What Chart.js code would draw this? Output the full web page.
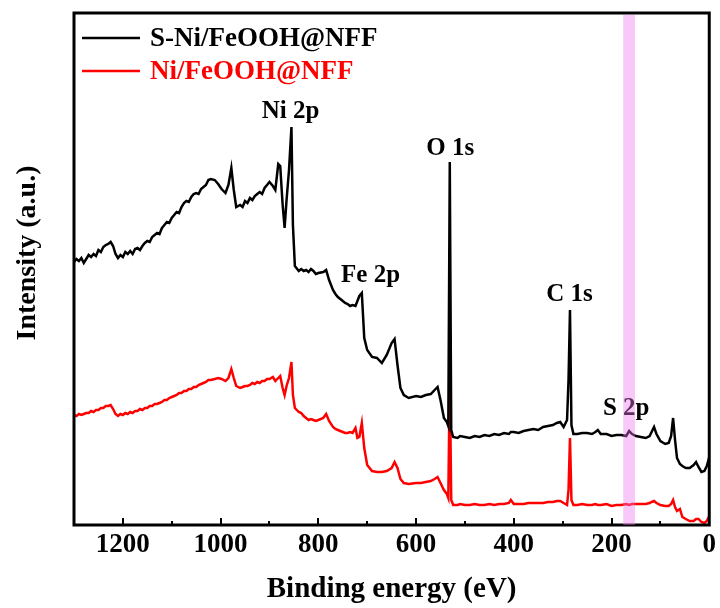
<!DOCTYPE html>
<html>
<head>
    <title>XPS survey spectra</title>
    <style>
        body { margin: 0; background: #fff; }
        #xps { display: block; }
    </style>
    <script src="https://cdn.jsdelivr.net/npm/chart.js"></script>
</head>
<body>
    <canvas id="xps" width="720" height="608"></canvas>

    <script>
        // binding energy (eV), shared by both spectra
        const energy = [
            1300, 1295, 1290, 1285, 1280, 1275, 1270, 1265, 1260, 1255, 1250, 1245, 1240, 1235, 1230, 1225, 1220, 1215, 1210, 1205,
            1200, 1195, 1190, 1185, 1180, 1175, 1170, 1165, 1160, 1155, 1150, 1145, 1140, 1135, 1130, 1125, 1120, 1115, 1110, 1105,
            1100, 1095, 1090, 1085, 1080, 1075, 1070, 1065, 1060, 1055, 1050, 1045, 1040, 1035, 1030, 1025, 1020,
            1012, 1005, 998, 990, 984, 978, 973, 968,
            960, 955, 950, 945, 940, 935, 930, 925, 920, 915, 910, 905, 900,
            893, 888, 882, 878, 873, 869, 865, 860, 855, 852, 848,
            840, 835, 830, 825, 820, 815, 810, 805, 800,
            790, 784, 778,
            770, 765, 760, 755, 750, 745, 740, 735, 730,
            724, 720, 716, 711, 706, 700, 690, 680, 670, 660, 650, 644, 638, 632, 625, 615, 600, 590, 580, 570,
            562, 556, 550, 543, 537, 534, 531, 528,
            524, 515, 510, 500, 490, 480, 470, 460, 450, 440, 430, 420, 410, 406, 400, 390, 380, 370, 360, 350,
            340, 330, 320, 312, 305, 298,
            291, 288, 285, 282, 278, 270, 260, 250, 240, 233, 228, 222, 210, 200, 190, 180, 170, 164, 158, 150,
            140, 130, 122, 118, 113, 108, 100, 90, 83, 78, 74, 70, 66, 60, 55, 48, 40, 32, 27, 22,
            16, 10, 5, 0];

        // intensity (a.u.), S-Ni/FeOOH@NFF
        const sNiFeOOH = [
            263, 266, 264, 267, 262, 266, 270, 268, 271, 269, 275, 273, 278, 280, 281, 283, 279, 271, 267, 270,
            268, 273, 271, 274, 271, 276, 277, 275, 279, 282, 284, 283, 288, 290, 292, 291, 297, 300, 303, 302,
            307, 310, 313, 312, 318, 322, 324, 323, 328, 331, 332, 331, 336, 338, 340, 345, 346,
            345, 341, 336, 332, 340, 357, 335, 318,
            320, 318, 324, 322, 327, 325, 329, 331, 333, 331, 337, 340, 343,
            339, 335, 361, 359, 320, 297, 325, 355, 398, 300, 259,
            254, 256, 254, 255, 253, 256, 254, 251, 252,
            253, 255, 245,
            235, 231, 228, 226, 224, 222, 221, 219, 220,
            219, 224, 229, 232, 187, 175, 168, 167, 162, 170, 182, 186, 160, 137, 130, 127, 129, 128, 130, 131,
            135, 138, 125, 107, 103, 99, 363, 95,
            88, 87, 89, 88, 87, 89, 88, 90, 89, 91, 90, 92, 91, 93, 93, 92, 94, 95, 96, 95,
            98, 99, 100, 102, 103, 98,
            105, 145, 215, 100, 91, 91, 92, 92, 91, 93, 95, 91, 91, 89, 90, 90, 89, 94, 91, 89,
            88, 87, 89, 93, 98, 91, 84, 81, 82, 89, 107, 85, 67, 61, 59, 57, 57, 60, 63, 58,
            53, 54, 59, 68];

        // intensity (a.u.), Ni/FeOOH@NFF
        const niFeOOH = [
            110, 109, 111, 110, 111, 112, 112, 114, 113, 115, 115, 117, 117, 119, 119, 120, 116, 111, 109, 111,
            110, 112, 111, 113, 112, 114, 114, 116, 115, 117, 117, 119, 119, 121, 121, 122, 123, 125, 125, 127,
            128, 129, 130, 132, 132, 134, 134, 136, 136, 138, 138, 140, 141, 142, 143, 145, 145,
            146, 147, 146, 144, 147, 156, 147, 139,
            137, 138, 139, 139, 140, 142, 141, 143, 142, 144, 144, 146, 146,
            148, 144, 147, 149, 137, 130, 139, 147, 163, 130, 117,
            113, 112, 109, 107, 105, 106, 105, 104, 105,
            107, 111, 104,
            98, 96, 95, 94, 93, 92, 92, 93, 92,
            97, 87, 88, 102, 77, 60, 54, 53, 53, 54, 57, 63, 57, 46, 42, 41, 42, 42, 43, 44,
            46, 48, 42, 35, 31, 27, 151, 25,
            20, 20, 21, 20, 20, 21, 20, 20, 21, 20, 21, 21, 22, 25, 21, 21, 21, 22, 22, 22,
            22, 23, 23, 24, 24, 22,
            20, 35, 87, 25, 20, 20, 21, 20, 20, 21, 20, 20, 21, 19, 20, 20, 21, 20, 21, 21,
            21, 21, 22, 23, 24, 22, 20, 19, 19, 21, 25, 18, 14, 16, 8, 6, 4, 4, 6, 6,
            3, 2, 4, 9];

        const xTickLabels = [1200, 1000, 800, 600, 400, 200, 0];

        // peak assignments: name, energy of the label centre, height of its baseline
        const peakNames = ['Ni 2p', 'Fe 2p', 'O 1s', 'C 1s', 'S 2p'];
        const peakEnergy = [857, 693, 530, 286, 170];
        const peakHeight = [407, 243, 370, 224, 110];

        // highlighted S 2p window (eV)
        const sBand = [152, 176];

        const SERIF = '"Liberation Serif", "Times New Roman", serif';

        const xpsDecor = {
            id: 'xpsDecor',
            afterDatasetsDraw(chart) {
                const ctx = chart.ctx;
                const area = chart.chartArea;
                const x = chart.scales.x;
                const y = chart.scales.y;

                // frame
                ctx.save();
                ctx.strokeStyle = '#000';
                ctx.lineWidth = 3;
                ctx.strokeRect(area.left, area.top, area.right - area.left, area.bottom - area.top);

                // inward ticks on the energy axis
                ctx.lineWidth = 2;
                for (let e = 100; e < 1300; e += 100) {
                    const px = Math.round(x.getPixelForValue(e));
                    const len = e % 200 === 0 ? 7 : 4;
                    ctx.beginPath();
                    ctx.moveTo(px, area.bottom);
                    ctx.lineTo(px, area.bottom - len);
                    ctx.stroke();
                }

                // peak labels
                ctx.fillStyle = '#000';
                ctx.font = 'bold 25px ' + SERIF;
                ctx.textAlign = 'center';
                ctx.textBaseline = 'alphabetic';
                peakNames.forEach((name, i) => {
                    ctx.fillText(name, x.getPixelForValue(peakEnergy[i]), y.getPixelForValue(peakHeight[i]));
                });

                // legend
                ctx.font = 'bold 27px ' + SERIF;
                ctx.textAlign = 'left';
                ctx.textBaseline = 'middle';
                chart.data.datasets.forEach((ds, i) => {
                    const ly = 38 + i * 33;
                    ctx.strokeStyle = ds.borderColor;
                    ctx.lineWidth = 2.5;
                    ctx.beginPath();
                    ctx.moveTo(82, ly);
                    ctx.lineTo(140, ly);
                    ctx.stroke();
                    ctx.fillStyle = ds.borderColor;
                    ctx.fillText(ds.label, 150, ly + 1);
                });

                // y axis title
                ctx.fillStyle = '#000';
                ctx.font = 'bold 28px ' + SERIF;
                ctx.translate(28, 253);
                ctx.rotate(-Math.PI / 2);
                ctx.textAlign = 'center';
                ctx.fillText('Intensity (a.u.)', 0, 0);
                ctx.restore();
            },
            afterDraw(chart) {
                const ctx = chart.ctx;
                const area = chart.chartArea;
                const x = chart.scales.x;
                const x1 = x.getPixelForValue(sBand[1]);
                const x2 = x.getPixelForValue(sBand[0]);
                ctx.save();
                ctx.fillStyle = 'rgba(237, 117, 237, 0.4)';
                ctx.fillRect(x1, area.top + 2, x2 - x1, area.bottom - area.top - 2);
                ctx.restore();
            }
        };

        const ctx = document.getElementById('xps').getContext('2d');
        new Chart(ctx, {
            type: 'line',
            data: {
                datasets: [{
                    label: 'S-Ni/FeOOH@NFF',
                    data: energy.map((e, i) => ({ x: e, y: sNiFeOOH[i] })),
                    borderColor: '#000000',
                    borderWidth: 2.5,
                    pointRadius: 0,
                    tension: 0
                }, {
                    label: 'Ni/FeOOH@NFF',
                    data: energy.map((e, i) => ({ x: e, y: niFeOOH[i] })),
                    borderColor: '#ff0000',
                    borderWidth: 2.5,
                    pointRadius: 0,
                    tension: 0
                }]
            },
            options: {
                responsive: false,
                animation: false,
                devicePixelRatio: 1,
                layout: { padding: { left: 74, right: 9, top: 13, bottom: 0 } },
                plugins: {
                    legend: { display: false },
                    tooltip: { enabled: false }
                },
                scales: {
                    x: {
                        type: 'linear',
                        reverse: true,
                        min: 0,
                        max: 1300,
                        grid: { display: false, drawTicks: false },
                        border: { display: false },
                        ticks: {
                            stepSize: 100,
                            autoSkip: false,
                            maxRotation: 0,
                            padding: 4,
                            color: '#000',
                            font: { family: SERIF, size: 27, weight: 'bold' },
                            callback: v => xTickLabels.includes(v) ? String(v) : ''
                        },
                        title: {
                            display: true,
                            text: 'Binding energy (eV)',
                            color: '#000',
                            font: { family: SERIF, size: 29, weight: 'bold' },
                            padding: { top: 0, bottom: 1 }
                        },
                        afterFit(scale) { scale.height = 83; }
                    },
                    y: {
                        display: false,
                        min: 0,
                        max: 512
                    }
                }
            },
            plugins: [xpsDecor]
        });
    </script>
</body>
</html>
